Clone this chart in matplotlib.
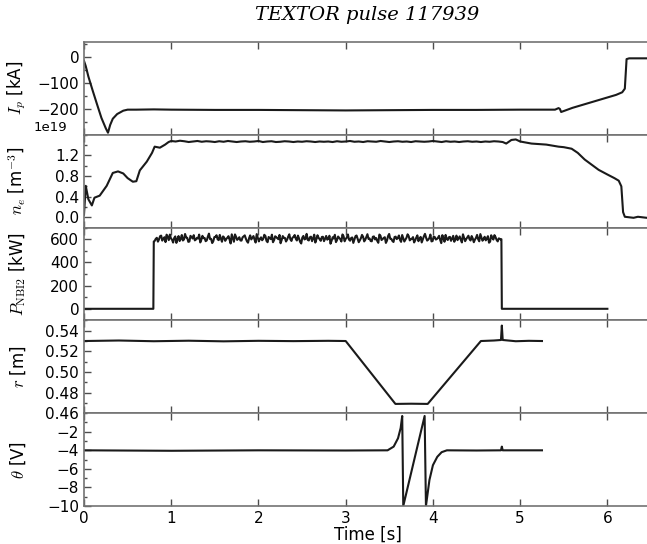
import numpy as np
import matplotlib
matplotlib.use('Agg')
import matplotlib.pyplot as plt
from matplotlib.ticker import MultipleLocator

plt.rcParams['mathtext.fontset'] = 'cm'
plt.rcParams['font.family'] = 'DejaVu Sans'

# plasma current Ip [kA]
ip_t = [0.0, 0.02, 0.05, 0.1, 0.15, 0.2, 0.25, 0.275, 0.3, 0.33, 0.38, 0.45, 0.5, 0.6,
        0.8, 1.0, 1.5, 2.0, 2.5, 3.0, 3.5, 4.0, 4.5, 5.0, 5.4, 5.44, 5.455, 5.47,
        5.6, 5.8, 6.0, 6.1, 6.17, 6.2, 6.22, 6.25, 6.5]
ip_v = [-15, -35, -75, -130, -183, -235, -275, -292, -262, -238, -220, -207, -203, -203,
        -202, -203, -204, -204, -205, -206, -205, -204, -204, -203, -203, -197, -200, -212,
        -196, -176, -156, -146, -136, -122, -8, -5, -5]

# electron density ne [m^-3], in units of 1e19
ne_t0 = [0.0, 0.02, 0.05, 0.09, 0.12, 0.18, 0.26, 0.33, 0.39, 0.45, 0.5, 0.56, 0.6,
         0.64, 0.72, 0.78, 0.81, 0.87, 0.93, 0.97]
ne_v0 = [0.05, 0.61, 0.35, 0.23, 0.38, 0.42, 0.61, 0.86, 0.89, 0.85, 0.76, 0.69, 0.7,
         0.91, 1.08, 1.25, 1.37, 1.35, 1.41, 1.46]
ne_flat = [1.48, 1.47, 1.485, 1.475, 1.46, 1.47, 1.48, 1.465, 1.475, 1.47,
           1.46, 1.475, 1.465, 1.48, 1.47, 1.46, 1.47, 1.475, 1.465, 1.47,
           1.48, 1.46, 1.47, 1.475, 1.46, 1.465, 1.475, 1.47, 1.46, 1.47,
           1.465, 1.475, 1.47, 1.46, 1.47, 1.465, 1.47, 1.46, 1.475, 1.465,
           1.47, 1.48, 1.465, 1.47, 1.46, 1.475, 1.47, 1.465, 1.48, 1.47,
           1.46, 1.47, 1.475, 1.465, 1.47, 1.46, 1.475, 1.47, 1.465, 1.47,
           1.48, 1.47, 1.46, 1.475, 1.465, 1.47, 1.46, 1.47, 1.475, 1.465,
           1.47, 1.46, 1.47, 1.465, 1.475, 1.47]
ne_t1 = [4.8, 4.84, 4.9, 4.95, 5.0, 5.13, 5.3, 5.44, 5.5, 5.59, 5.66, 5.74, 5.82,
         5.9, 6.0, 6.08, 6.13, 6.16, 6.18, 6.2, 6.25, 6.3, 6.35, 6.4, 6.45, 6.5]
ne_v1 = [1.46, 1.43, 1.5, 1.51, 1.47, 1.43, 1.41, 1.37, 1.36, 1.33, 1.25, 1.12, 1.02,
         0.92, 0.83, 0.76, 0.71, 0.6, 0.1, 0.01, 0.0, -0.01, 0.01, 0.0, -0.01, 0.0]

# NBI2 power [kW]: two interleaved sample sets during the beam
nbi_t0 = [0.0, 0.795, 0.8]
nbi_v0 = [0, 0, 580]
nbi_a = [585, 612, 598, 631, 604, 575, 622, 640, 596, 610, 568, 627, 603, 589, 645, 612, 580, 618, 635, 597,
         606, 572, 629, 611, 590, 648, 603, 583, 620, 599, 637, 578, 615, 602, 626, 563, 609, 641, 594, 617,
         588, 624, 605, 570, 633, 612, 597, 644, 581, 616, 603, 628, 574, 610, 639, 592, 618, 600, 565, 627,
         611, 596, 642, 585, 620, 604, 631, 577, 613, 598, 646, 589, 622, 607, 571, 634, 600, 619, 583, 628,
         605, 561, 617, 638, 593, 612, 580, 626, 603, 641, 587, 615, 598, 632, 574, 609, 621, 595, 643, 606,
         582, 624, 610, 569, 630, 601, 617, 588, 645, 603, 576, 622, 611, 594, 636, 580, 613, 627, 599, 618,
         590, 633, 604, 572, 625, 614, 596, 640, 584, 619, 602, 629, 566, 611, 637, 593, 620, 605, 578, 631,
         608, 595, 642, 583, 616, 601, 627, 574, 612, 599, 644, 587, 621, 606, 570, 634, 597, 618, 581, 603]
nbi_b = [603, 579, 626, 588, 617, 639, 592, 607, 571, 624, 600, 584, 636, 598, 615, 577, 629, 606, 590, 612,
         640, 595, 609, 583, 622, 601, 567, 618, 634, 592, 605, 624, 586, 613, 597, 642, 578, 620, 604, 589,
         616, 633, 582, 609, 598, 627, 571, 612, 604, 591, 638, 586, 619, 601, 574, 625, 608, 637, 593, 611,
         580, 622, 599, 614, 636, 589, 606, 563, 628, 603, 594, 617, 583, 639, 600, 612, 586, 621, 604, 596,
         630, 587, 606, 575, 623, 600, 641, 582, 614, 597, 610, 568, 626, 603, 590, 637, 581, 618, 602, 584,
         621, 598, 586, 640, 593, 611, 568, 627, 604, 585, 619, 601, 632, 577, 608, 596, 642, 590, 605, 572,
         614, 583, 620, 599, 646, 588, 609, 581, 622, 597, 613, 594, 635, 578, 603, 617, 586, 629, 600, 592,
         624, 572, 611, 601, 630, 589, 607, 596, 637, 582, 615, 603, 590, 626, 579, 612, 635, 594, 607, 598]
nbi_t1 = [4.785, 4.79, 6.0]
nbi_v1 = [600, 0, 0]

# radial position r [m]
r_t = [0.0, 0.4, 0.8, 1.2, 1.6, 2.0, 2.4, 2.8, 3.0, 3.57, 3.75, 3.94, 4.55, 4.7,
       4.78, 4.79, 4.8, 4.95, 5.1, 5.25]
r_v = [0.530, 0.5305, 0.5298, 0.5303, 0.5297, 0.5302, 0.5299, 0.5302, 0.530, 0.469,
       0.4692, 0.469, 0.530, 0.5305, 0.531, 0.545, 0.531, 0.5298, 0.5302, 0.530]

# theta [V]
th_t = [0.0, 1.0, 2.0, 3.0, 3.48, 3.55, 3.6, 3.63, 3.648, 3.66, 3.905, 3.92, 3.96,
        4.0, 4.05, 4.1, 4.16, 4.5, 4.78, 4.79, 4.8, 5.25]
th_v = [-4.0, -4.05, -4.0, -4.02, -4.0, -3.6, -2.7, -1.6, -0.3, -10.0, -0.3, -10.0,
        -7.2, -5.6, -4.7, -4.2, -4.0, -4.02, -4.0, -3.6, -4.0, -4.0]

ne_t = np.concatenate([ne_t0, np.linspace(1.0, 4.75, len(ne_flat)), ne_t1])
ne_v = np.concatenate([ne_v0, ne_flat, ne_v1]) * 1e19
nbi_mid = np.ravel(np.column_stack([nbi_a, nbi_b]))
nbi_t = np.concatenate([nbi_t0, np.linspace(0.81, 4.78, len(nbi_mid)), nbi_t1])
nbi_v = np.concatenate([nbi_v0, nbi_mid, nbi_v1])

series = [(ip_t, ip_v), (ne_t, ne_v), (nbi_t, nbi_v), (r_t, r_v), (th_t, th_v)]
ylabels = [r'$I_p$ [kA]', r'$n_e$ [m$^{-3}$]', r'$P_{\mathrm{NBI2}}$ [kW]',
           r'$r$ [m]', r'$\theta$ [V]']
ylims = [(-300, 58), (-0.2e19, 1.6e19), (-100, 700), (0.46, 0.55), (-10, 0)]
yticks = [[-200, -100, 0], [0, 0.4e19, 0.8e19, 1.2e19], [0, 200, 400, 600],
          [0.46, 0.48, 0.50, 0.52, 0.54], [-10, -8, -6, -4, -2]]
yminor = [50, 0.2e19, 100, 0.01, 1]

fig = plt.figure(figsize=(6.47, 5.44), dpi=100)
left = 84 / 647.
width = 567 / 647.
top = 42 / 544.
h = 92.8 / 544.

axes = []
for i in range(5):
    ax = fig.add_axes([left, 1 - top - (i + 1) * h, width, h])
    t, v = series[i]
    ax.plot(t, v, color='#1a1a1a', lw=1.5)
    ax.set_xlim(0, 6.5)
    ax.set_ylim(*ylims[i])
    ax.set_yticks(yticks[i])
    ax.yaxis.set_minor_locator(MultipleLocator(yminor[i]))
    ax.xaxis.set_major_locator(MultipleLocator(1))
    ax.tick_params(axis='x', which='both', direction='in', top=True, bottom=True,
                   length=5, width=1, color='0.3', labelsize=11, labelbottom=(i == 4))
    ax.tick_params(axis='y', which='major', direction='in', left=True, right=False,
                   length=5, width=1, color='0.3', labelsize=11)
    ax.tick_params(axis='y', which='minor', direction='in', left=True, right=False,
                   length=2.5, width=1, color='0.3')
    for s in ax.spines.values():
        s.set_color('0.45')
        s.set_linewidth(1.2)
    ax.set_ylabel(ylabels[i], fontsize=12)
    ax.yaxis.set_label_coords(-0.099, 0.5)
    axes.append(ax)

# offset text of the density axis sits left of the axis
off = axes[1].yaxis.get_offset_text()
off.set_x(-0.03)
off.set_ha('right')
off.set_fontsize(9.5)

axes[4].set_xlabel('Time [s]', fontsize=12, labelpad=0)

fig.text(0.567, 1 - 15 / 544., 'TEXTOR pulse 117939', family='DejaVu Serif',
         style='italic', fontsize=14, ha='center', va='center')

fig.savefig('out.png', dpi=100)
